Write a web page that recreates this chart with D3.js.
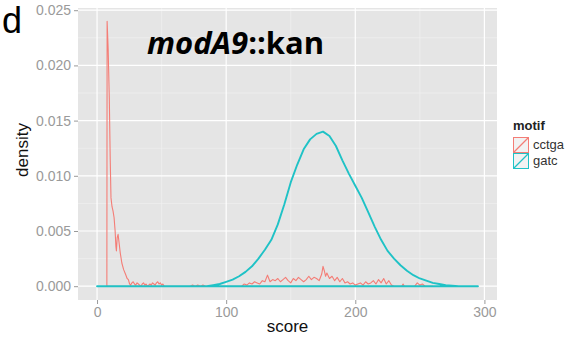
<!DOCTYPE html>
<html>
<head>
<meta charset="utf-8">
<script src="https://cdn.jsdelivr.net/npm/d3@7"></script>
<style>
  body { margin: 0; background: #fff; }
  svg { display: block; }
</style>
</head>
<body>
<div id="chart"></div>
<script>
// density curves, [score, density]
const cctga = [
  [7.6, 0], [7.8, 0.0240], [8.6, 0.0215], [9.5, 0.0170], [10.2, 0.0115], [10.8, 0.0080],
  [11.6, 0.0072], [12.4, 0.0068], [13.2, 0.0062], [14.0, 0.0050], [14.6, 0.0036], [15.0, 0.0032],
  [15.6, 0.0044], [16.3, 0.0047], [17.0, 0.0040], [18.0, 0.0030], [19.2, 0.0021], [20.6, 0.0015],
  [22.0, 0.0011], [23.3, 0.0007], [24.3, 0.0006], [25.2, 0.0002], [26, 0.0001], [27, 0.0003],
  [28, 0.0004], [29, 0.0002], [30, 0.0001], [31, 0.0003], [32, 0.0002], [33, 0.0001], [34, 0.0000],
  [35, 0.0002], [36, 0.0003], [37, 0.0001], [38, 0.0002], [39, 0.0000], [40, 0.0001], [41, 0.0002],
  [42, 0.0001], [43, 0.0003], [44, 0.0002], [45, 0.0001], [46, 0.0003], [47, 0.0004], [48, 0.0002],
  [49, 0.0003], [50, 0.0001], [51, 0.0002], [52, 0.0000], [55, 0.0000], [72, 0.0000], [74, 0.0001],
  [76, 0.0000], [78, 0.0001], [80, 0.0000], [82, 0.0001], [84, 0.0000], [112, 0.0000], [114, 0.0002],
  [116, 0.0001], [118, 0.0003], [120, 0.0002], [122, 0.0004], [124, 0.0003], [126, 0.0002],
  [128, 0.0005], [130, 0.0004], [132, 0.0010], [133, 0.0007], [134, 0.0004], [136, 0.0006],
  [138, 0.0005], [140, 0.0007], [142, 0.0004], [144, 0.0006], [146, 0.0008], [148, 0.0005],
  [150, 0.0003], [152, 0.0007], [154, 0.0005], [156, 0.0008], [158, 0.0006], [160, 0.0004],
  [162, 0.0006], [164, 0.0009], [166, 0.0006], [168, 0.0008], [170, 0.0007], [172, 0.0005],
  [174, 0.0011], [175, 0.0018], [176, 0.0014], [177, 0.0009], [178, 0.0012], [180, 0.0007],
  [182, 0.0009], [184, 0.0005], [186, 0.0008], [188, 0.0004], [190, 0.0007], [192, 0.0003],
  [194, 0.0004], [196, 0.0002], [198, 0.0003], [200, 0.0001], [202, 0.0002], [204, 0.0003],
  [206, 0.0001], [208, 0.0004], [210, 0.0002], [212, 0.0003], [214, 0.0005], [216, 0.0002],
  [218, 0.0006], [220, 0.0003], [222, 0.0007], [224, 0.0002], [226, 0.0005], [228, 0.0001],
  [230, 0.0000], [236, 0.0000], [237, 0.0002], [238, 0.0000], [246, 0.0000], [248, 0.0003],
  [250, 0.0001], [252, 0.0002], [254, 0.0000], [260, 0]
];

const gatc = [
  [0, 0], [85, 0], [90, 0.0001], [95, 0.0002], [100, 0.0004], [105, 0.0006], [110, 0.0009],
  [115, 0.0013], [120, 0.0018], [125, 0.0025], [130, 0.0033], [135, 0.0042], [140, 0.0056],
  [145, 0.0074], [150, 0.0094], [155, 0.0110], [160, 0.0124], [165, 0.0133], [170, 0.0138],
  [175, 0.0140], [180, 0.0136], [185, 0.0127], [190, 0.0114], [195, 0.0102], [200, 0.0091],
  [205, 0.0080], [210, 0.0067], [215, 0.0054], [220, 0.0042], [225, 0.0032], [230, 0.0025],
  [235, 0.0019], [240, 0.0014], [245, 0.0010], [250, 0.0007], [255, 0.0005], [260, 0.0003],
  [265, 0.0002], [270, 0.0001], [275, 0.00005], [280, 0], [295, 0]
];

const motifs = ['cctga', 'gatc'];
const colors = ['#f47d76', '#1fc2c6'];
const xTicks = [0, 100, 200, 300];
const yTicks = [0, 0.005, 0.010, 0.015, 0.020, 0.025];

const W = 574, H = 339;
const panel = {left: 78, right: 497, top: 8, bottom: 300};
const sans = '"Liberation Sans", Arial, sans-serif';

const svg = d3.select('#chart').append('svg')
  .attr('width', W).attr('height', H);

const x = d3.scaleLinear().domain([-14.75, 309.75]).range([panel.left, panel.right]);
const y = d3.scaleLinear().domain([-0.00125, 0.0252]).range([panel.bottom, panel.top]);

// panel background
svg.append('rect')
  .attr('x', panel.left).attr('y', panel.top)
  .attr('width', panel.right - panel.left).attr('height', panel.bottom - panel.top)
  .attr('fill', '#e5e5e5');

// minor grid
const grid = svg.append('g');
[50, 150, 250].forEach(v => {
  grid.append('line').attr('x1', x(v)).attr('x2', x(v))
    .attr('y1', panel.top).attr('y2', panel.bottom)
    .attr('stroke', '#f2f2f2').attr('stroke-width', 0.6);
});
[0.0025, 0.0075, 0.0125, 0.0175, 0.0225].forEach(v => {
  grid.append('line').attr('y1', y(v)).attr('y2', y(v))
    .attr('x1', panel.left).attr('x2', panel.right)
    .attr('stroke', '#f2f2f2').attr('stroke-width', 0.6);
});
// major grid
xTicks.forEach(v => {
  grid.append('line').attr('x1', x(v)).attr('x2', x(v))
    .attr('y1', panel.top).attr('y2', panel.bottom)
    .attr('stroke', '#fff').attr('stroke-width', 1.2);
});
yTicks.forEach(v => {
  grid.append('line').attr('y1', y(v)).attr('y2', y(v))
    .attr('x1', panel.left).attr('x2', panel.right)
    .attr('stroke', '#fff').attr('stroke-width', 1.2);
});

// density outlines (polygon closed along the baseline)
const line = d3.line().x(d => x(d[0])).y(d => y(d[1]));
const series = [cctga, gatc];
series.forEach((data, i) => {
  const closed = data.concat([[data[data.length - 1][0], 0], [data[0][0], 0]]);
  svg.append('path')
    .attr('d', line(closed) + 'Z')
    .attr('fill', 'none')
    .attr('stroke', colors[i])
    .attr('stroke-width', i === 0 ? 1.1 : 1.9)
    .attr('stroke-linejoin', 'round');
});

// axes
const xAxis = svg.append('g')
  .attr('transform', `translate(0,${panel.bottom})`)
  .call(d3.axisBottom(x).tickValues(xTicks).tickSize(4).tickPadding(3).tickFormat(d3.format('d')));
const yAxis = svg.append('g')
  .attr('transform', `translate(${panel.left},0)`)
  .call(d3.axisLeft(y).tickValues(yTicks).tickSize(4).tickPadding(3).tickFormat(d3.format('.3f')));
[xAxis, yAxis].forEach(g => {
  g.select('.domain').remove();
  g.selectAll('line').attr('stroke', '#999');
  g.selectAll('text').attr('fill', '#9a9a9a')
    .style('font-family', sans).style('font-size', '14px');
});

// axis titles
svg.append('text')
  .attr('x', (panel.left + panel.right) / 2).attr('y', 332)
  .attr('text-anchor', 'middle')
  .style('font-family', sans).style('font-size', '17px')
  .attr('fill', '#111')
  .text('score');
svg.append('text')
  .attr('transform', 'translate(28,150) rotate(-90)')
  .attr('text-anchor', 'middle')
  .style('font-family', sans).style('font-size', '17px')
  .attr('fill', '#111')
  .text('density');

// panel label and strain annotation
svg.append('text')
  .attr('x', 2).attr('y', 33)
  .style('font-family', sans).style('font-size', '36px')
  .attr('fill', '#000')
  .text('d');
const note = svg.append('text')
  .attr('x', 147).attr('y', 54)
  .style('font-family', '"Open Sans", sans-serif').style('font-size', '31px')
  .style('font-weight', 'bold').attr('fill', '#000');
note.append('tspan').style('font-style', 'italic').text('modA9');
note.append('tspan').text('::kan');

// legend
const legend = svg.append('g').attr('transform', 'translate(513,0)');
legend.append('text')
  .attr('x', 0).attr('y', 130)
  .style('font-family', sans).style('font-size', '13px')
  .style('font-weight', 'bold').attr('fill', '#222')
  .text('motif');
motifs.forEach((m, i) => {
  const top = 137 + i * 16;
  legend.append('rect')
    .attr('x', 0.5).attr('y', top + 0.5).attr('width', 15).attr('height', 15)
    .attr('fill', '#f2f2f2').attr('stroke', colors[i]).attr('stroke-width', 1);
  legend.append('line')
    .attr('x1', 1).attr('y1', top + 15).attr('x2', 15).attr('y2', top + 1)
    .attr('stroke', colors[i]).attr('stroke-width', 1.2);
  legend.append('text')
    .attr('x', 20).attr('y', top + 12)
    .style('font-family', sans).style('font-size', '13px')
    .attr('fill', '#333')
    .text(m);
});
</script>
</body>
</html>
